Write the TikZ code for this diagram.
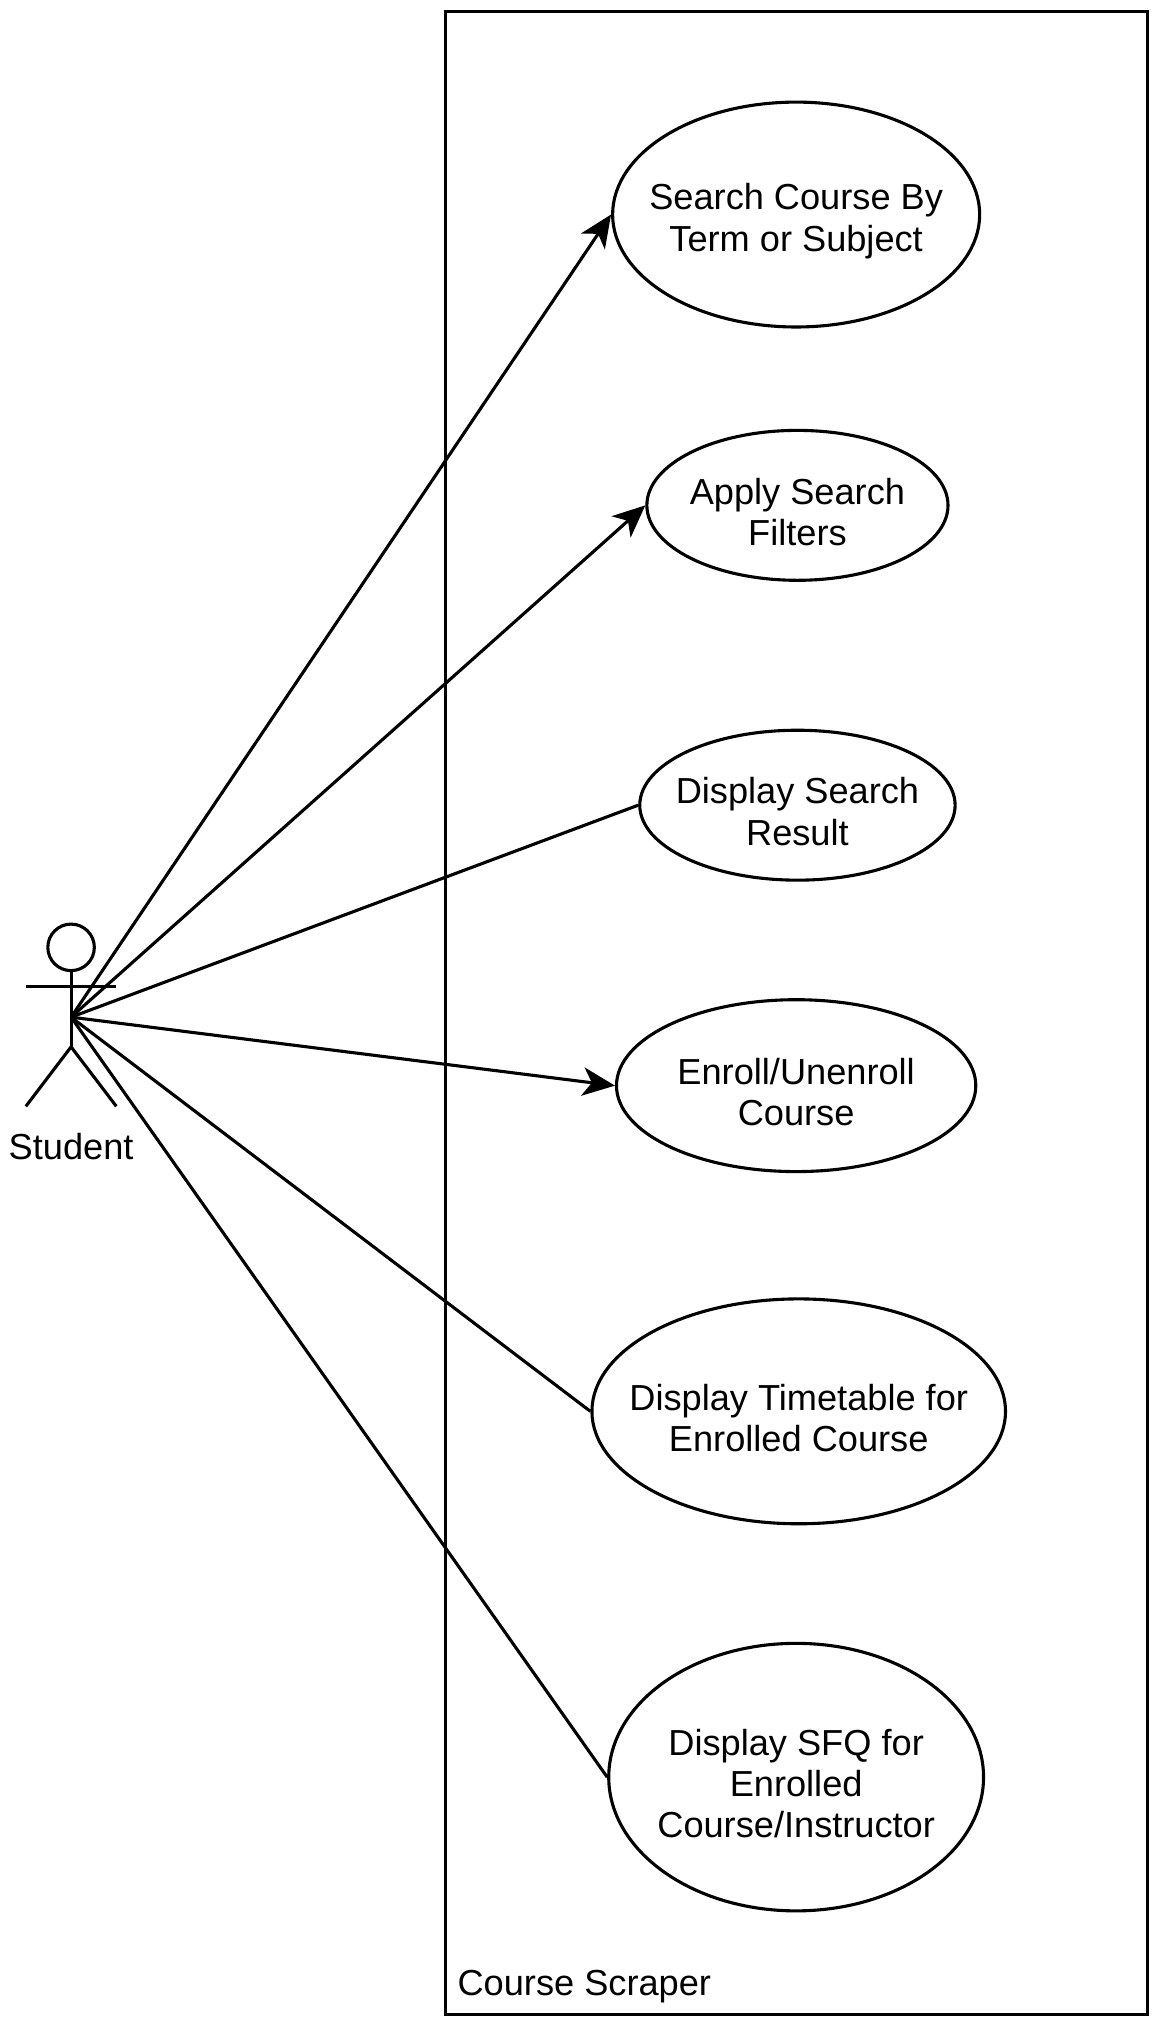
\documentclass[tikz,border=0pt]{standalone}
\usepackage{fontspec}
\setmainfont{Liberation Sans}
\usetikzlibrary{shapes.geometric, arrows.meta}

\begin{document}
\begin{tikzpicture}[x=0.5pt, y=-0.5pt]
            \tikzset{
                usecase/.style={draw, ellipse, line width=1.2pt, inner sep=0pt},
                caption/.style={align=center, font=\fontsize{14}{16}\selectfont},
                assoc/.style={line width=1.2pt},
                arc/.style={assoc, -{Stealth[length=12.5pt, width=11pt, inset=3.5pt]}}
            }

            \useasboundingbox (0,0) rectangle (900,1573);

            % system boundary
            \draw[line width=1.2pt] (345,9) rectangle (888,1559);
            \node[caption, anchor=base west] (system) at (347,1544) {Course Scraper};

            % actor
            \draw[line width=1.2pt] (55,733) circle[radius=9pt];
            \draw[line width=1.2pt] (55,751) -- (55,810);
            \draw[line width=1.2pt] (20,763) -- (90,763);
            \draw[line width=1.2pt] (20,856) -- (55,810) -- (90,856);
            \coordinate (student) at (55,787);
            \node[caption] (studentlabel) at (55,887) {Student};

            % use cases
            \draw node[usecase, minimum width=142pt, minimum height=87pt] (search) at (616,166) {};
            \draw node[usecase, minimum width=116.5pt, minimum height=58pt] (filters) at (617,391) {};
            \draw node[usecase, minimum width=122pt, minimum height=58pt] (result) at (617,623) {};
            \draw node[usecase, minimum width=139pt, minimum height=66.5pt] (enroll) at (616,840) {};
            \draw node[usecase, minimum width=160pt, minimum height=87pt] (timetable) at (618,1092) {};
            \draw node[usecase, minimum width=145pt, minimum height=103.5pt] (sfq) at (616,1375) {};

            \node[caption] (search-t) at ([yshift=-2.5pt]search) {Search Course By\\Term or Subject};
            \node[caption] (filters-t) at ([yshift=-2.5pt]filters) {Apply Search\\Filters};
            \node[caption] (result-t) at ([yshift=-2.5pt]result) {Display Search\\Result};
            \node[caption] (enroll-t) at ([yshift=-2.5pt]enroll) {Enroll/Unenroll\\Course};
            \node[caption] (timetable-t) at ([yshift=-2.5pt]timetable) {Display Timetable for\\Enrolled Course};
            \node[caption] (sfq-t) at ([yshift=-2.5pt]sfq) {Display SFQ for\\Enrolled\\Course/Instructor};

            \foreach \x/\y in {%
                search/arc,filters/arc,result/assoc,enroll/arc,timetable/assoc,sfq/assoc%
            }{
                \draw (student) edge[\y] (\x.west);
            }
        \end{tikzpicture}
\end{document}
